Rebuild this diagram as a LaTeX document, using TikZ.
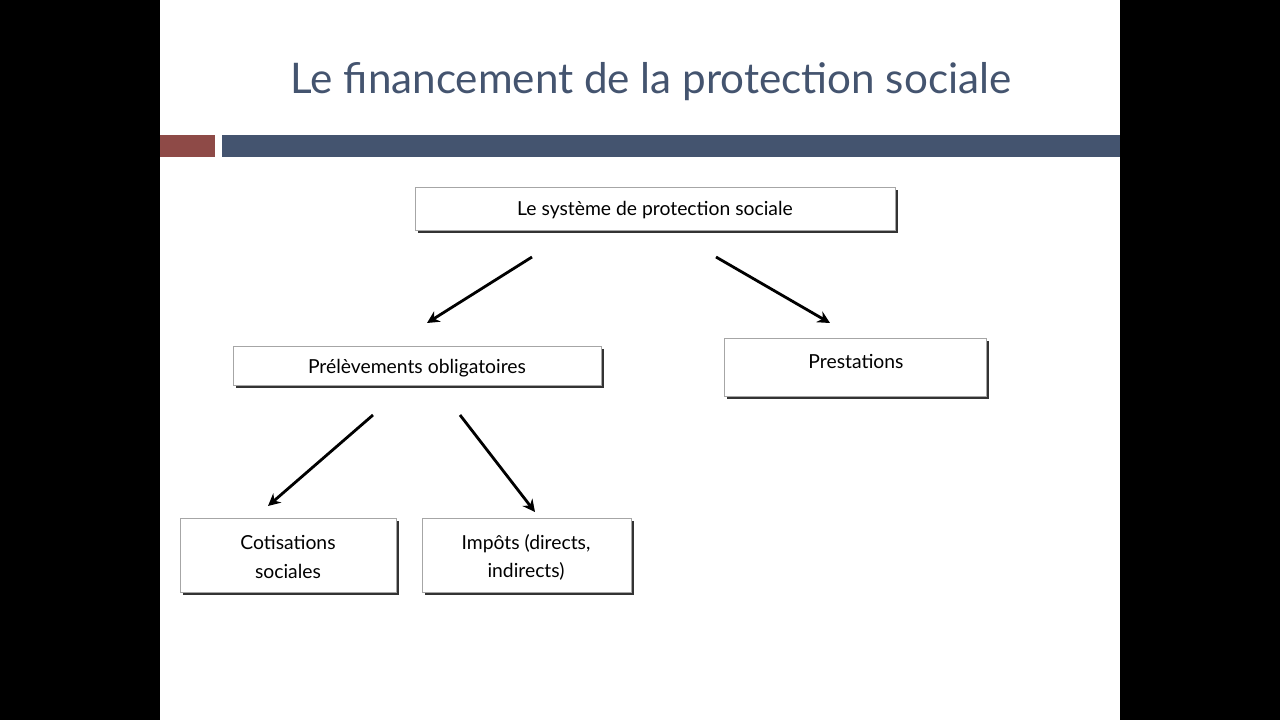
\documentclass[tikz,border=0pt]{standalone}
\usepackage{fontspec}
\setmainfont{Lato}
\usetikzlibrary{shadows,arrows.meta}
\definecolor{slate}{HTML}{44546F}
\definecolor{brick}{HTML}{8E4A47}
\tikzset{box/.style={draw=black!35,fill=white,line width=0.4pt,
    drop shadow={shadow xshift=1.5pt,shadow yshift=-1.5pt,fill=black!80,opacity=1},
    font=\fontsize{11}{14}\selectfont,align=center},
  link/.style={line width=1.6pt,-{Stealth[length=7pt,width=7pt]}}}
\begin{document}
\begin{tikzpicture}[x=0.02cm,y=-0.02cm]
\useasboundingbox (0,0) rectangle (1280,720);
\fill[black] (0,0) rectangle (160,720);
\fill[black] (1120,0) rectangle (1280,720);
\fill[white] (160,0) rectangle (1120,720);

% title and bar
\node[text=slate,font=\fontsize{24}{28}\selectfont] (title) at (651,82) {Le financement de la protection sociale};
\fill[brick] (160,135) rectangle (215,157);
\fill[slate] (222,135) rectangle (1120,157);

% boxes
\path[box] (415,187) rectangle (895,230);
\node[font=\fontsize{11}{14}\selectfont] (sys) at (655,210) {Le système de protection sociale};
\path[box] (233,346) rectangle (601,385);
\node[font=\fontsize{11}{14}\selectfont] (prel) at (417,368) {Prélèvements obligatoires};
\path[box] (724,338) rectangle (986,396);
\node[font=\fontsize{11}{14}\selectfont] (prest) at (856,361) {Prestations};
\path[box] (180,518) rectangle (396,592);
\node[font=\fontsize{11}{14}\selectfont,align=center] (cotis) at (288,557) {Cotisations\\[2pt]sociales};
\path[box] (422,518) rectangle (631,592);
\node[font=\fontsize{11}{14}\selectfont,align=center] (impots) at (526,557) {Impôts (directs,\\[2pt]indirects)};

% arrows
\coordinate (a1) at (532,257); \coordinate (b1) at (427,323);
\coordinate (a2) at (716,257); \coordinate (b2) at (830,323);
\coordinate (a3) at (373,415); \coordinate (b3) at (268,506);
\coordinate (a4) at (460,415); \coordinate (b4) at (535,512);
\draw[link] (a1) -- (b1);
\draw[link] (a2) -- (b2);
\draw[link] (a3) -- (b3);
\draw[link] (a4) -- (b4);
\end{tikzpicture}
\end{document}
